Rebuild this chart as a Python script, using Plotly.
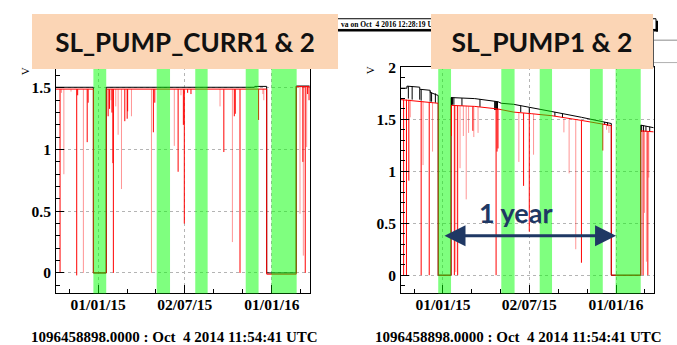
import plotly.graph_objects as go

# ---------------------------------------------------------------- data
T_START = "2014-10-04 11:54:41"
T_END = "2016-03-21"

# periods shaded in green (same on both panels)
band_starts = ["2014-12-22", "2015-05-04", "2015-07-24", "2015-11-07", "2015-12-31"]
band_ends = ["2015-01-18", "2015-06-01", "2015-08-19", "2015-12-04", "2016-02-22"]

x_tick_dates = ["2015-01-01", "2015-07-02", "2016-01-01"]
x_minor_dates = ["2014-11-01", "2015-03-03", "2015-05-02", "2015-09-01",
                 "2015-11-01", "2016-03-02"]
y_ticks = [0, 0.5, 1, 1.5, 2]
y_tick_text = ["0", "0.5", "1", "1.5", "2"]

# --- SL_PUMP_CURR1 (black) / SL_PUMP_CURR2 (red), base levels
curr1_dates = ["2014-10-04 12:00", "2014-12-22", "2014-12-22", "2015-01-18", "2015-01-18",
               "2015-11-25", "2015-11-26", "2015-12-21", "2015-12-21", "2016-02-21",
               "2016-02-21", "2016-03-20"]
curr1_vals = [1.505, 1.505, 0.0, 0.0, 1.505,
              1.505, 1.512, 1.512, 0.0, 0.0,
              1.515, 1.515]
curr2_dates = ["2014-10-04 12:00", "2014-12-22", "2014-12-22", "2015-01-18", "2015-01-18",
               "2015-12-21", "2015-12-21", "2016-02-21", "2016-02-21", "2016-03-20"]
curr2_vals = [1.49, 1.49, 0.0, 0.0, 1.49,
              1.49, -0.01, -0.01, 1.51, 1.51]

# drops of SL_PUMP_CURR2 (date, level before drop, lowest value)
curr2_drop_dates = ["2014-10-13", "2014-11-17", "2014-11-19", "2014-12-09", "2014-12-11",
                    "2015-01-22", "2015-01-25", "2015-01-30", "2015-02-01", "2015-02-02",
                    "2015-02-26", "2015-03-03", "2015-03-04", "2015-04-27", "2015-04-30",
                    "2015-06-18", "2015-06-29", "2015-07-01", "2015-07-08", "2015-07-15",
                    "2015-09-22", "2015-10-14", "2015-10-16", "2015-10-26", "2015-12-04",
                    "2016-03-06", "2016-03-11", "2016-03-16", "2016-03-19"]
curr2_drop_tops = [1.49] * 25 + [1.51, 1.51, 1.51, 1.51]
curr2_drop_lows = [0.0, -0.02, 1.44, 1.06, 1.38,
                   1.27, 1.33, 1.30, 0.89, 0.0,
                   1.23, 1.25, 1.31, 1.14, 1.38,
                   0.82, 1.20, 0.40, 1.46, 1.45,
                   0.98, 1.27, 1.29, 0.0, 1.24,
                   0.90, 0.0, 1.45, 1.40]
# fainter drops of SL_PUMP_CURR2
curr2_faint_dates = ["2014-10-16", "2014-10-21", "2014-11-05", "2014-12-01",
                     "2015-01-28", "2015-02-07", "2015-02-12", "2015-02-19", "2015-03-12",
                     "2015-04-23", "2015-06-10", "2015-06-24", "2015-09-14", "2015-10-10",
                     "2015-12-13", "2015-12-15", "2016-02-29", "2016-03-07", "2016-03-14"]
curr2_faint_tops = [1.49] * 16 + [1.51, 1.51, 1.51]
curr2_faint_lows = [1.46, 0.80, 1.47, 0.0,
                    1.40, 1.35, 1.12, 0.68, 1.27,
                    0.0, 1.03, 1.44, 1.35, 0.25,
                    1.45, 1.40, 0.48, 0.14, 1.02]

# --- SL_PUMP1 (black) / SL_PUMP2 (red), base levels
pump1_dates = ["2014-10-04 12:00", "2014-10-17", "2014-10-17", "2014-11-13", "2014-11-13",
               "2014-12-05", "2014-12-05", "2014-12-22", "2014-12-22", "2015-01-18",
               "2015-01-18", "2015-03-09", "2015-04-27", "2015-05-04", "2015-05-30",
               "2015-07-06", "2015-07-24", "2015-08-19", "2015-10-20", "2015-11-08",
               "2015-12-03", "2015-12-22", "2015-12-22", "2016-02-22", "2016-02-22",
               "2016-03-20"]
pump1_vals = [1.80, 1.80, 1.82, 1.81, 1.79,
              1.78, 1.76, 1.73, 0.0, 0.0,
              1.71, 1.70, 1.67, 1.655, 1.645,
              1.615, 1.60, 1.575, 1.52, 1.50,
              1.48, 1.46, 0.0, 0.0, 1.445,
              1.42]
pump2_dates = ["2014-10-04 12:00", "2014-11-13", "2014-12-22", "2014-12-22", "2015-01-18",
               "2015-01-18", "2015-03-09", "2015-04-27", "2015-05-30", "2015-07-06",
               "2015-08-19", "2015-10-20", "2015-12-03", "2015-12-22", "2015-12-22",
               "2016-02-22", "2016-02-22", "2016-03-20"]
pump2_vals = [1.69, 1.675, 1.655, 0.0, 0.0,
              1.635, 1.625, 1.60, 1.57, 1.555,
              1.535, 1.49, 1.46, 1.44, 0.0,
              0.0, 1.39, 1.38]

# short dips of SL_PUMP1
pump1_dip_dates = ["2014-10-20", "2014-10-28", "2014-11-13", "2014-11-16", "2014-12-05",
                   "2014-12-08", "2014-12-16",
                   "2015-01-19", "2015-01-21", "2015-01-24", "2015-02-10", "2015-03-20",
                   "2015-04-20", "2015-04-22", "2015-04-24", "2015-04-26", "2015-06-14",
                   "2015-07-02", "2015-08-25", "2015-09-10", "2015-12-08", "2015-12-14",
                   "2016-02-24", "2016-02-28", "2016-03-04", "2016-03-12"]
pump1_dip_tops = [1.82, 1.82, 1.79, 1.79, 1.77,
                  1.76, 1.75,
                  1.71, 1.71, 1.71, 1.705, 1.695,
                  1.675, 1.675, 1.67, 1.67, 1.63,
                  1.615, 1.57, 1.555, 1.475, 1.47,
                  1.445, 1.44, 1.435, 1.43]
pump1_dip_lows = [1.70, 1.69, 1.69, 1.68, 1.67,
                  1.67, 1.66,
                  1.63, 1.64, 1.64, 1.63, 1.62,
                  1.59, 1.59, 1.59, 1.59, 1.57,
                  1.55, 1.53, 1.515, 1.45, 1.44,
                  1.38, 1.38, 1.38, 1.38]

# drops of SL_PUMP2
pump2_drop_dates = ["2014-10-10", "2014-10-16", "2014-10-21", "2014-11-16", "2014-12-03",
                    "2015-01-19", "2015-01-25", "2015-02-01", "2015-03-05",
                    "2015-04-23", "2015-04-25", "2015-04-27", "2015-06-20", "2015-07-02",
                    "2015-10-20", "2015-12-04", "2016-02-27", "2016-03-08"]
pump2_drop_tops = [1.69, 1.69, 1.69, 1.675, 1.665,
                   1.635, 1.635, 1.63, 1.625,
                   1.60, 1.60, 1.60, 1.56, 1.555,
                   1.49, 1.46, 1.39, 1.385]
pump2_drop_lows = [0.0, 0.0, 0.91, 0.0, 0.0,
                   1.34, 0.0, 0.0, 1.39,
                   0.0, 1.19, 1.22, 0.86, 0.42,
                   0.12, 1.20, 0.0, 0.0]
pump2_faint_dates = ["2014-10-24", "2014-11-20", "2014-12-10",
                     "2015-01-28", "2015-02-06", "2015-02-13", "2015-02-19", "2015-02-24",
                     "2015-03-07", "2015-03-16", "2015-06-10", "2015-07-11",
                     "2015-09-13", "2015-09-24", "2015-10-08", "2015-12-12", "2015-12-17",
                     "2016-03-01", "2016-03-05", "2016-03-10"]
pump2_faint_tops = [1.69, 1.675, 1.66,
                    1.635, 1.63, 1.63, 1.63, 1.625,
                    1.625, 1.62, 1.565, 1.55,
                    1.505, 1.50, 1.495, 1.455, 1.45,
                    1.39, 1.385, 1.385]
pump2_faint_lows = [1.52, 1.06, 1.19,
                    0.03, 1.03, 1.34, 0.73, 1.37,
                    1.33, 1.37, 1.09, 1.16,
                    1.375, 0.98, 0.25, 1.40, 1.37,
                    0.60, 0.13, 0.94]

# one-year marker on the SL_PUMP panel
year_from, year_to, year_level = "2015-01-01", "2016-01-01", 0.38

# ---------------------------------------------------------------- helpers
W, H = 677, 345


def px(x):
    return x / W


def py(y):
    return 1 - y / H


def spikes(dates, tops, lows):
    xs, ys = [], []
    for d, t, b in zip(dates, tops, lows):
        xs += [d, d, None]
        ys += [t, b, None]
    return xs, ys


RED = "rgb(255,0,0)"
PALE = "rgba(255,0,0,0.42)"
SERIF = "Liberation Serif"
NAVY = "#1f3864"

fig = go.Figure()


def add_line(xs, ys, color, ax, width=1):
    fig.add_trace(go.Scatter(x=xs, y=ys, mode="lines", xaxis=ax[0], yaxis=ax[1],
                             line=dict(color=color, width=width), hoverinfo="skip",
                             showlegend=False, connectgaps=False))


# left panel
add_line(curr1_dates, curr1_vals, "black", ("x", "y"))
add_line(curr2_dates, curr2_vals, RED, ("x", "y"))
add_line(*spikes(curr2_faint_dates, curr2_faint_tops, curr2_faint_lows), PALE, ("x", "y"))
add_line(*spikes(curr2_drop_dates, curr2_drop_tops, curr2_drop_lows), RED, ("x", "y"))

# right panel
add_line(pump1_dates, pump1_vals, "black", ("x2", "y2"))
add_line(*spikes(pump1_dip_dates, pump1_dip_tops, pump1_dip_lows), "black", ("x2", "y2"))
add_line(pump2_dates, pump2_vals, RED, ("x2", "y2"))
add_line(*spikes(pump2_faint_dates, pump2_faint_tops, pump2_faint_lows), PALE, ("x2", "y2"))
add_line(*spikes(pump2_drop_dates, pump2_drop_tops, pump2_drop_lows), RED, ("x2", "y2"))

y_dom = [py(292), py(60)]


def tickfont():
    return dict(family=SERIF, size=15.5, color="black", weight="bold")


def xaxis(dom, anchor):
    return dict(domain=dom, anchor=anchor, type="date", range=[T_START, T_END],
                tickmode="array", tickvals=x_tick_dates, tickformat="%d/%m/%y",
                ticks="inside", ticklen=8, tickcolor="black", tickwidth=1,
                showline=True, linecolor="black", linewidth=1, mirror=True,
                showgrid=True, gridcolor="#b4b4b4", griddash="dot", gridwidth=1,
                zeroline=False, tickfont=tickfont(), ticklabelstandoff=-3,
                minor=dict(tickmode="array", tickvals=x_minor_dates, ticks="inside",
                           ticklen=4, tickcolor="black", showgrid=False))


def yaxis(rng, anchor):
    return dict(domain=y_dom, anchor=anchor, range=rng,
                tickmode="array", tickvals=y_ticks, ticktext=y_tick_text,
                ticks="inside", ticklen=8, tickcolor="black", tickwidth=1,
                showline=True, linecolor="black", linewidth=1, mirror=True,
                showgrid=True, gridcolor="#b4b4b4", griddash="dot", gridwidth=1,
                zeroline=False, tickfont=tickfont(), ticklabelstandoff=1,
                minor=dict(dtick=0.1, tick0=0, ticks="inside", ticklen=4,
                           tickcolor="black", showgrid=False))


shapes = []
# shaded periods on both panels
for xr, yr in (("x", "y"), ("x2", "y2")):
    for s, e in zip(band_starts, band_ends):
        shapes.append(dict(type="rect", xref=xr, yref=yr + " domain", x0=s, x1=e, y0=0, y1=1,
                           fillcolor="rgba(0,255,0,0.5)", line=dict(width=0), layer="above"))

# canvas decorations behind the headings
shapes += [
    dict(type="rect", xref="paper", yref="paper", x0=px(300), x1=px(656), y0=py(21), y1=py(10),
         fillcolor="white", line=dict(color="black", width=1)),
    dict(type="rect", xref="paper", yref="paper", x0=px(300), x1=px(658), y0=py(23), y1=py(21),
         fillcolor="black", line=dict(width=0)),
    dict(type="rect", xref="paper", yref="paper", x0=px(656), x1=px(658), y0=py(23), y1=py(12),
         fillcolor="black", line=dict(width=0)),
    dict(type="line", xref="paper", yref="paper", x0=px(653), x1=px(677), y0=py(32), y1=py(32),
         line=dict(color="#8a8a8a", width=1)),
    dict(type="line", xref="paper", yref="paper", x0=px(653), x1=px(677), y0=py(55), y1=py(55),
         line=dict(color="#b0b0b0", width=1)),
    dict(type="line", xref="paper", yref="paper", x0=px(653.5), x1=px(653.5), y0=py(60), y1=py(22),
         line=dict(color="#555555", width=1)),
]

stamp = "1096458898.0000 : Oct\u00a0\u00a04 2014 11:54:41 UTC"
annotations = [
    dict(text="va on Oct\u00a0\u00a04 2016 12:28:19 UTC", xref="paper", yref="paper",
         x=px(339), y=py(15.5), xanchor="left", yanchor="middle", showarrow=False,
         font=dict(family=SERIF, size=7.5, color="black", weight="bold")),
    dict(text="SL_PUMP_CURR1 & 2", xref="paper", yref="paper", x=px(185), y=py(33.5),
         xanchor="center", yanchor="middle", showarrow=False, width=306, height=55,
         bgcolor="#fbd5b5", borderpad=0, borderwidth=0,
         font=dict(family="Lato", size=26, color="#111111", weight="bold")),
    dict(text="SL_PUMP1 & 2", xref="paper", yref="paper", x=px(542), y=py(33.5),
         xanchor="center", yanchor="middle", showarrow=False, width=222, height=55,
         bgcolor="#fbd5b5", borderpad=0, borderwidth=0,
         font=dict(family="Lato", size=26.5, color="#111111", weight="bold")),
    dict(text="V", xref="paper", yref="paper", x=px(25), y=py(64), textangle=-90,
         xanchor="center", yanchor="middle", showarrow=False,
         font=dict(family=SERIF, size=11, color="black")),
    dict(text="V", xref="paper", yref="paper", x=px(370), y=py(63), textangle=-90,
         xanchor="center", yanchor="middle", showarrow=False,
         font=dict(family=SERIF, size=11, color="black")),
    dict(text=stamp, xref="paper", yref="paper", x=px(174), y=py(336.5), showarrow=False,
         xanchor="center", yanchor="middle",
         font=dict(family=SERIF, size=15, color="black", weight="bold")),
    dict(text=stamp, xref="paper", yref="paper", x=px(518), y=py(336.5), showarrow=False,
         xanchor="center", yanchor="middle",
         font=dict(family=SERIF, size=15, color="black", weight="bold")),
    dict(text="", xref="x2", yref="y2", x=year_to, y=year_level,
         axref="x2", ayref="y2", ax=year_from, ay=year_level, showarrow=True,
         arrowhead=2, startarrowhead=2, arrowside="end+start", arrowsize=1.4,
         startarrowsize=1.4, arrowwidth=3, arrowcolor=NAVY, standoff=0, startstandoff=0),
    dict(text="1 year", xref="paper", yref="paper", x=px(516), y=py(209), showarrow=False,
         xanchor="center", yanchor="middle",
         font=dict(family="Lato", size=27, color=NAVY, weight="bold")),
]

fig.update_layout(
    width=W, height=H, margin=dict(l=0, r=0, t=0, b=0),
    font=dict(family=SERIF, color="black"),
    paper_bgcolor="white", plot_bgcolor="white", showlegend=False,
    xaxis=xaxis([px(56), px(310)], "y"),
    yaxis=yaxis([-0.1658, 1.6658], "x"),
    xaxis2=xaxis([px(401), px(654)], "y2"),
    yaxis2=yaxis([-0.175, 2.0], "x2"),
    shapes=shapes, annotations=annotations,
)

fig.write_html("out.html")
